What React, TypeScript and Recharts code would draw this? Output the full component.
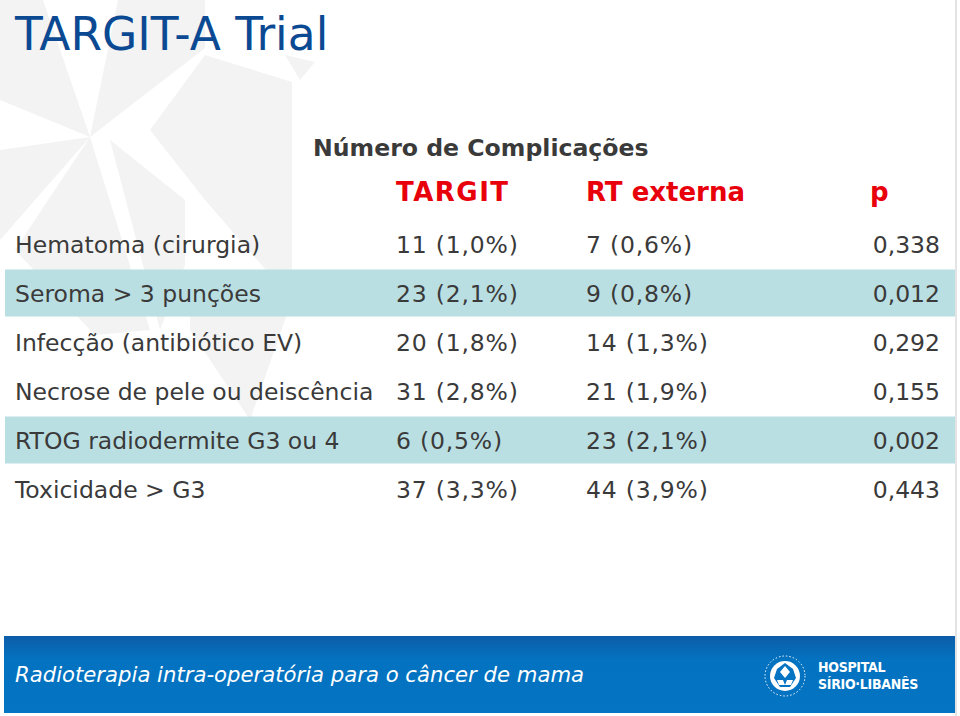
import React from 'react';
import { BarChart, Bar, XAxis, YAxis } from 'recharts';

const complications = [
    'Hematoma (cirurgia)',
    'Seroma > 3 punções',
    'Infecção (antibiótico EV)',
    'Necrose de pele ou deiscência',
    'RTOG radiodermite G3 ou 4',
    'Toxicidade > G3',
];
const targitValues = ['11 (1,0%)', '23 (2,1%)', '20 (1,8%)', '31 (2,8%)', '6 (0,5%)', '37 (3,3%)'];
const rtExternaValues = ['7 (0,6%)', '9 (0,8%)', '14 (1,3%)', '21 (1,9%)', '23 (2,1%)', '44 (3,9%)'];
const pValues = ['0,338', '0,012', '0,292', '0,155', '0,002', '0,443'];
// rows shaded in the slide (the significant p values)
const highlighted = [0, 1, 0, 0, 1, 0];

const columnHeaders = ['TARGIT', 'RT externa', 'p'];

const FONT = '"DejaVu Sans", Verdana, sans-serif';
const TEXT = '#3a3a3a';

const rows = complications.map((name, i) => ({
    name,
    targit: targitValues[i],
    rt: rtExternaValues[i],
    p: pValues[i],
    band: highlighted[i],
}));

function RowTick(props: any) {
    const { y, payload } = props;
    const row = rows.find(r => r.name === (payload && payload.value));
    if (!row) return <g />;
    const ty = y + 8.5;
    const common = { fontFamily: FONT, fontSize: 23.5, fill: TEXT };
    return (
        <g>
            <text x={15} y={ty} {...common}>{row.name}</text>
            <text x={396} y={ty} letterSpacing={0.8} {...common}>{row.targit}</text>
            <text x={586} y={ty} letterSpacing={0.8} {...common}>{row.rt}</text>
            <text x={940} y={ty} textAnchor="end" {...common}>{row.p}</text>
        </g>
    );
}

function Watermark() {
    const c = '#f3f3f3';
    return (
        <svg width={960} height={716} style={{ position: 'absolute', left: 0, top: 0 }}>
            <polygon points="0,0 43,0 90,137 0,100" fill={c} />
            <polygon points="118,0 205,0 205,48 90,137" fill={c} />
            <polygon points="205,55 292,82 292,300 205,200 150,130" fill={c} />
            <polygon points="0,150 90,137 0,240" fill={c} />
            <polygon points="90,137 150,330 95,335 15,250" fill={c} />
            <polygon points="110,140 185,200 185,265 160,330" fill={c} />
            <polygon points="285,55 315,62 300,80" fill={c} />
            <polygon points="190,270 292,300 250,420 190,330" fill={c} />
        </svg>
    );
}

function Footer() {
    return (
        <div style={{
            position: 'absolute', left: 4, top: 636, width: 951, height: 77,
            background: 'linear-gradient(#0d5da8 0%, #0372c0 30%, #0474c3 100%)',
        }}>
            <div style={{
                position: 'absolute', left: 11, top: 26, color: '#ffffff',
                fontFamily: FONT, fontStyle: 'italic', fontSize: 21.2, whiteSpace: 'nowrap',
            }}>
                Radioterapia intra-operatória para o câncer de mama
            </div>
            <svg width={44} height={44} style={{ position: 'absolute', left: 759, top: 18 }}>
                <circle cx={22} cy={22} r={20} fill="none" stroke="#ffffff" strokeWidth={1} strokeDasharray="1.5 2" />
                <circle cx={22} cy={22} r={15} fill="#ffffff" />
                <polygon points="22,9 30,15 33,24 27,33 17,33 11,24 14,15" fill="#0474c3" />
                <polygon points="22,12 27,18 22,24 17,18" fill="#ffffff" />
                <polygon points="14,26 20,26 22,31 16,31" fill="#ffffff" />
                <polygon points="24,26 30,26 28,31 22,31" fill="#ffffff" />
            </svg>
            <div style={{
                position: 'absolute', left: 814, top: 23, color: '#ffffff',
                fontFamily: '"DejaVu Sans Condensed", "DejaVu Sans", sans-serif', fontWeight: 'bold',
                fontSize: 14, lineHeight: '17px', letterSpacing: -0.3,
            }}>
                HOSPITAL<br />SÍRIO·LIBANÊS
            </div>
        </div>
    );
}

export default function App() {
    return (
        <div style={{ position: 'absolute', left: 0, top: 0, width: 960, height: 716, background: '#ffffff', overflow: 'hidden' }}>
            <Watermark />
            <div style={{ position: 'absolute', left: 955, top: 0, width: 2, height: 716, background: '#e4e4e4' }} />
            <div style={{
                position: 'absolute', left: 15, top: 8, color: '#0b4a93',
                fontFamily: FONT, fontSize: 45.5, whiteSpace: 'nowrap',
            }}>
                TARGIT-A Trial
            </div>
            <div style={{ position: 'absolute', left: 0, top: 0 }}>
                <BarChart
                    width={960}
                    height={716}
                    data={rows}
                    layout="vertical"
                    margin={{ top: 219.5, right: 5, bottom: 202.5, left: 4 }}
                    barCategoryGap={1}
                >
                    <XAxis type="number" domain={[0, 1]} hide />
                    <YAxis
                        type="category"
                        dataKey="name"
                        width={1}
                        axisLine={false}
                        tickLine={false}
                        interval={0}
                        tick={<RowTick />}
                    />
                    <Bar dataKey="band" fill="#badfe2" isAnimationActive={false} />
                </BarChart>
            </div>
            <div style={{
                position: 'absolute', left: 313, top: 134, color: TEXT,
                fontFamily: FONT, fontWeight: 'bold', fontSize: 23.6, whiteSpace: 'nowrap',
            }}>
                Número de Complicações
            </div>
            {columnHeaders.map((h, i) => (
                <div key={h} style={{
                    position: 'absolute', left: [396, 586, 870][i], top: 177, color: '#e8000b',
                    fontFamily: FONT, fontWeight: 'bold', fontSize: 26, whiteSpace: 'nowrap',
                    letterSpacing: i === 0 ? 1.5 : 0,
                }}>
                    {h}
                </div>
            ))}
            <Footer />
        </div>
    );
}
